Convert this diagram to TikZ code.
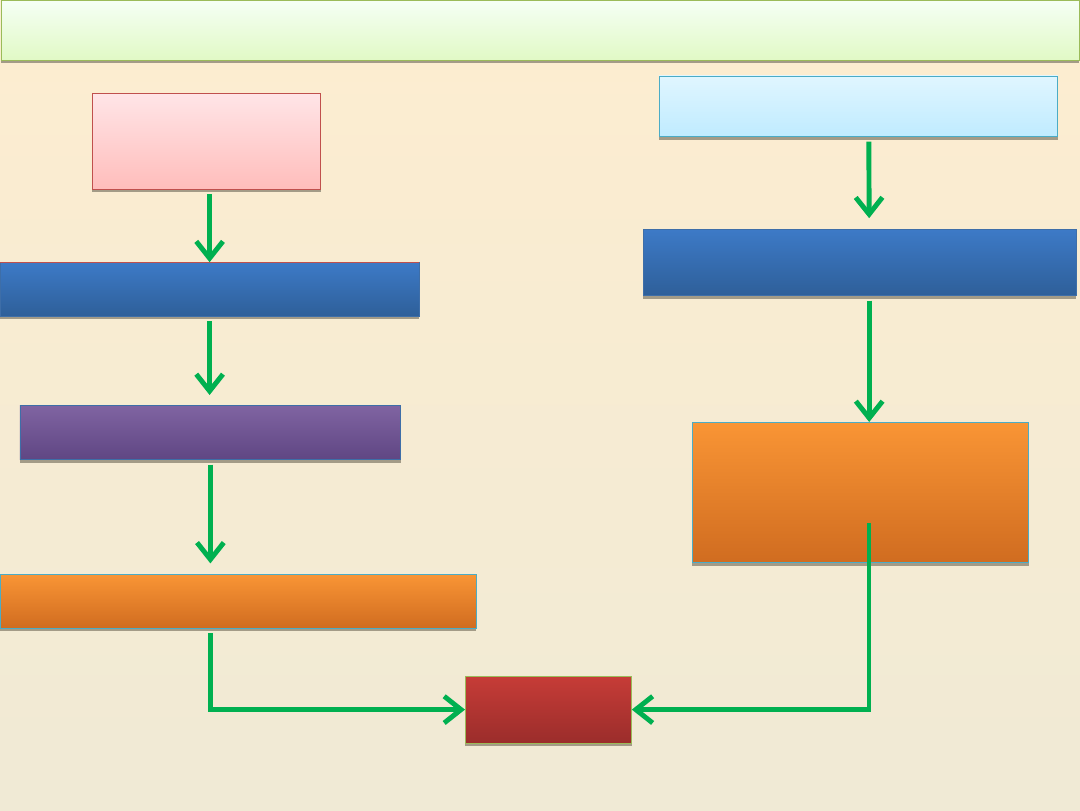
\documentclass[tikz,border=0pt]{standalone}
\usepackage{tikz}
\usepackage{xcolor}
\usetikzlibrary{arrows.meta, shadows}
\definecolor{bgtop}{HTML}{FDEDD0}
\definecolor{bgbot}{HTML}{F0EAD5}
\definecolor{shadowc}{HTML}{A39B87}
\definecolor{arrgreen}{HTML}{00B050}
\definecolor{olivedraw}{HTML}{9BBB59}
\definecolor{reddraw}{HTML}{C0504D}
\definecolor{aquadraw}{HTML}{4BACC6}
\definecolor{bluedraw}{HTML}{3E6EA8}

\begin{document}
\begin{tikzpicture}[
        box/.style={
            inner sep=0pt,
            outer sep=0pt,
            line width=0.7pt,
            drop shadow={shadow xshift=0pt, shadow yshift=-2.2pt, fill=shadowc, opacity=1}
          },
        titlebar/.style={box, draw=olivedraw, top color=green!4!white, bottom color={rgb,255:red,225;green,249;blue,197}},
        pinkbox/.style={box, draw=reddraw, top color={rgb,255:red,255;green,229;blue,231}, bottom color={rgb,255:red,255;green,189;blue,187}},
        skybox/.style={box, draw=aquadraw, top color={rgb,255:red,224;green,246;blue,255}, bottom color={rgb,255:red,191;green,235;blue,255}},
        bluebox/.style={box, draw=bluedraw, top color={rgb,255:red,61;green,122;blue,199}, bottom color={rgb,255:red,46;green,95;blue,153}},
        purplebox/.style={box, draw=bluedraw, top color={rgb,255:red,128;green,100;blue,162}, bottom color={rgb,255:red,95;green,70;blue,131}},
        orangebox/.style={box, draw=aquadraw, top color={rgb,255:red,249;green,149;blue,53}, bottom color={rgb,255:red,208;green,108;blue,32}},
        redbox/.style={box, draw=olivedraw, top color={rgb,255:red,198;green,60;blue,55}, bottom color={rgb,255:red,155;green,45;blue,43}},
        arr/.style={-{Straight Barb[length=12pt, width=19pt, line width=3.5pt]}, arrgreen, line width=3.5pt, shorten <=3.5pt}
      ]
      \useasboundingbox (0,0) rectangle (27,20.25);
      \fill[top color=bgtop, bottom color=bgbot] (0,0) rectangle (27,20.25);

      \node[titlebar, minimum width=26.95cm, minimum height=1.50cm] (title) at (13.5,19.49) {};

      \node[pinkbox, minimum width=5.72cm, minimum height=2.40cm] (pink) at (5.16,16.72) {};
      \node[bluebox, minimum width=10.47cm, minimum height=1.35cm] (bleft) at (5.24,13.02) {};
      \draw[reddraw, line width=0.7pt] (bleft.north west) -- (bleft.north east);
      \node[purplebox, minimum width=9.52cm, minimum height=1.37cm] (purple) at (5.26,9.44) {};
      \node[orangebox, minimum width=11.90cm, minimum height=1.35cm] (oleft) at (5.95,5.22) {};

      \node[redbox, minimum width=4.17cm, minimum height=1.67cm] (result) at (13.71,2.51) {};

      \node[skybox, minimum width=9.97cm, minimum height=1.52cm] (sky) at (21.46,17.59) {};
      \node[bluebox, minimum width=10.82cm, minimum height=1.67cm] (bright) at (21.49,13.69) {};
      \node[orangebox, minimum width=8.42cm, minimum height=3.52cm] (oright) at (21.51,7.94) {};
      \coordinate (ostart) at (21.725,7.18);

      \draw[arr] (pink.south -| bleft.north) -- (bleft.north);
      \draw[arr, shorten >=0.25cm] (bleft.south) -- (bleft.south |- purple.north);
      \draw[arr, shorten >=0.27cm] (purple.south) -- (purple.south |- oleft.north);
      \draw[arr] (oleft.south -| purple.south) |- (result.west);

      \draw[arr, shorten >=0.27cm] ([xshift=0.26cm]sky.south) -- ([xshift=0.24cm]bright.north);
      \draw[arr] ([xshift=0.24cm]bright.south) -- ([xshift=0.24cm]bright.south |- oright.north);
      \draw[arr, shorten <=0pt] (ostart) |- (result.east);
    \end{tikzpicture}
\end{document}
